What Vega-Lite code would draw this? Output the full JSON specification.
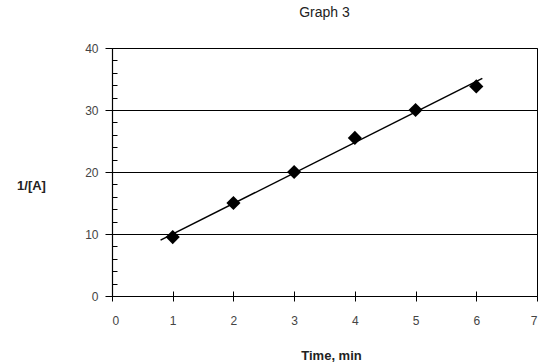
{
  "$schema": "https://vega.github.io/schema/vega-lite/v6.json",
  "autosize": "none",
  "width": 425,
  "height": 248,
  "padding": {"left": 112, "top": 48, "right": 3, "bottom": 67},
  "background": "white",
  "config": {
    "view": {"stroke": "black", "strokeWidth": 1},
    "font": "Liberation Sans",
    "axis": {"labelFont": "Liberation Sans", "titleFont": "Liberation Sans"}
  },
  "title": {"text": "Graph 3", "fontSize": 14, "fontWeight": "normal", "font": "Liberation Sans", "color": "#222", "offset": 22, "anchor": "middle"},
  "datasets": {
    "points": [
      {"time": 1, "inv": 9.5},
      {"time": 2, "inv": 15},
      {"time": 3, "inv": 20},
      {"time": 4, "inv": 25.5},
      {"time": 5, "inv": 30},
      {"time": 6, "inv": 33.8}
    ],
    "fit": [
      {"time": 0.8, "inv": 9.0},
      {"time": 6.1, "inv": 35.1}
    ]
  },
  "layer": [
    {
      "data": {"name": "fit"},
      "mark": {"type": "line", "color": "black", "strokeWidth": 1.5},
      "encoding": {
        "x": {"field": "time", "type": "quantitative", "scale": {"domain": [0, 7], "nice": false},
          "axis": {"orient": "bottom", "values": [0,1,2,3,4,5,6,7], "grid": false, "domainColor": "black", "domainWidth": 1.2, "tickColor": "black", "tickSize": 5, "labelPadding": 14, "labelFontSize": 12, "labelColor": "#444", "title": "Time, min", "titleFontSize": 13, "titleFontWeight": "bold", "titleColor": "#222", "titleX": 219, "titleY": 59, "titleBaseline": "middle", "titleAlign": "center"}},
        "y": {"field": "inv", "type": "quantitative", "scale": {"domain": [0, 40], "nice": false},
          "axis": {"orient": "left", "values": [0,10,20,30,40], "grid": true, "gridColor": "black", "gridOpacity": 1, "gridWidth": 1, "domainColor": "black", "domainWidth": 1.2, "tickColor": "black", "tickSize": 7, "labelPadding": 7, "labelFontSize": 12, "labelColor": "#444", "title": "1/[A]", "titleAngle": 0, "titleFontSize": 13, "titleFontWeight": "bold", "titleColor": "#222", "titleX": -81, "titleY": 137, "titleAlign": "center", "titleBaseline": "middle"}}
      }
    },
    {
      "data": {"name": "points"},
      "mark": {"type": "point", "shape": "diamond", "filled": true, "color": "black", "opacity": 1, "size": 200},
      "encoding": {
        "x": {"field": "time", "type": "quantitative", "axis": null},
        "y": {"field": "inv", "type": "quantitative", "axis": null}
      }
    },
    {
      "data": {"name": "points"},
      "mark": {"type": "point", "opacity": 0},
      "encoding": {
        "x": {"field": "time", "type": "quantitative",
          "axis": {"orient": "bottom", "values": [1,2,3,4,5,6], "grid": false, "domain": false, "labels": false, "tickColor": "black", "tickSize": -5, "title": null}},
        "y": {"field": "inv", "type": "quantitative",
          "axis": {"orient": "left", "values": [2,4,6,8,12,14,16,18,22,24,26,28,32,34,36,38], "grid": false, "domain": false, "labels": false, "tickColor": "black", "tickSize": -5, "title": null}}
      }
    }
  ],
  "resolve": {"axis": {"x": "independent", "y": "independent"}}
}
